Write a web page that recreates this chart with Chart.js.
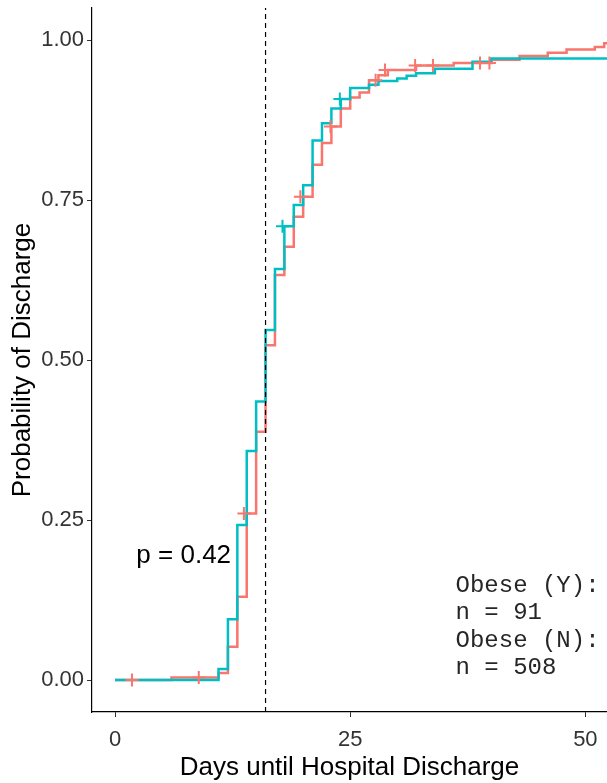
<!DOCTYPE html>
<html lang="en">
<head>
  <meta charset="UTF-8" />
  <title>Days until Hospital Discharge</title>
  <script src="https://cdn.jsdelivr.net/npm/chart.js"></script>
  <style>
    body { margin: 0; background: #fff; }
    #wrap { width: 607px; height: 783px; position: relative; }
  </style>
</head>
<body>
<div id="wrap"><canvas id="kmChart"></canvas></div>

<script>
  // Obese (N) - red curve
  const obeseNDays = [0, 6, 11, 12, 13, 14, 15, 16, 17, 18, 19, 20, 21, 22, 23, 24, 25, 26, 27, 28, 29, 32, 36, 40, 43, 46, 48, 51, 52, 56];
  const obeseNProb = [0, 0.004, 0.011, 0.052, 0.130, 0.260, 0.388, 0.523, 0.633, 0.677, 0.724, 0.755, 0.805, 0.839, 0.865, 0.893, 0.910, 0.918, 0.937, 0.945, 0.953, 0.960, 0.964, 0.969, 0.975, 0.980, 0.985, 0.989, 0.995, 0.995];
  const obeseNCensorDays = [1.8, 8.9, 13.7, 19.7, 22.9, 27.7, 28.7, 31.9, 33.8, 38.8, 39.8];
  const obeseNCensorProb = [0, 0.004, 0.260, 0.755, 0.865, 0.937, 0.953, 0.960, 0.960, 0.964, 0.964];

  // Obese (Y) - teal curve
  const obeseYDays = [0, 11, 12, 13, 14, 15, 16, 17, 18, 19, 20, 21, 22, 23, 24, 25, 27, 28, 30, 31, 32, 34, 38, 40, 56];
  const obeseYProb = [0, 0.017, 0.095, 0.242, 0.358, 0.435, 0.547, 0.642, 0.709, 0.742, 0.773, 0.843, 0.870, 0.893, 0.908, 0.925, 0.930, 0.936, 0.940, 0.944, 0.948, 0.955, 0.966, 0.971, 0.971];
  const obeseYCensorDays = [17.8, 23.9];
  const obeseYCensorProb = [0.709, 0.908];

  const medianDay = 16;
  const xTicks = [0, 25, 50];
  const yTicks = [0, 0.25, 0.5, 0.75, 1];
  const pValueText = 'p = 0.42';
  const countLines = ['Obese (Y):', 'n = 91', 'Obese (N):', 'n = 508'];

  const RED = '#F8766D';
  const TEAL = '#00BFC4';

  function pts(xs, ys) {
    return xs.map((x, i) => ({ x: x, y: ys[i] }));
  }

  function stepLine(days, prob, color) {
    return {
      data: pts(days, prob),
      borderColor: color,
      borderWidth: 2.5,
      pointRadius: 0,
      stepped: 'before',
      fill: false
    };
  }

  function censorMarks(days, prob, color) {
    return {
      data: pts(days, prob),
      showLine: false,
      pointStyle: 'cross',
      pointRadius: 6.5,
      pointBorderWidth: 2,
      pointBorderColor: color,
      borderColor: color,
      backgroundColor: color
    };
  }

  // text drawn in data coordinates
  const notesPlugin = {
    id: 'notes',
    afterDatasetsDraw(chart) {
      const ctx = chart.ctx;
      const xs = chart.scales.x, ys = chart.scales.y;
      ctx.save();
      ctx.fillStyle = '#000';
      ctx.textBaseline = 'middle';

      ctx.font = '26px "Liberation Sans", Arial, sans-serif';
      ctx.textAlign = 'center';
      ctx.fillText(pValueText, xs.getPixelForValue(7.3), ys.getPixelForValue(0.194));

      ctx.font = '24px "Liberation Mono", "Courier New", monospace';
      ctx.fillStyle = '#262626';
      ctx.textAlign = 'left';
      const left = xs.getPixelForValue(36.2);
      const top = ys.getPixelForValue(0.148);
      countLines.forEach((line, i) => {
        ctx.fillText(line, left, top + i * 27.5);
      });
      ctx.restore();
    }
  };

  const tickFont = { family: '"Liberation Sans", Arial, sans-serif', size: 22 };
  const titleFont = { family: '"Liberation Sans", Arial, sans-serif', size: 26, lineHeight: 1.2 };

  new Chart(document.getElementById('kmChart'), {
    type: 'line',
    data: {
      datasets: [
        {
          data: [{ x: medianDay, y: -0.05 }, { x: medianDay, y: 1.05 }],
          borderColor: '#000',
          borderWidth: 1.2,
          borderDash: [5, 4],
          pointRadius: 0
        },
        censorMarks(obeseNCensorDays, obeseNCensorProb, RED),
        censorMarks(obeseYCensorDays, obeseYCensorProb, TEAL),
        stepLine(obeseYDays, obeseYProb, TEAL),
        stepLine(obeseNDays, obeseNProb, RED)
      ]
    },
    options: {
      responsive: true,
      maintainAspectRatio: false,
      animation: false,
      layout: {
        autoPadding: false,
        padding: { top: 8, left: 0, right: 0, bottom: 0 }
      },
      plugins: {
        legend: { display: false },
        tooltip: { enabled: false }
      },
      scales: {
        x: {
          type: 'linear',
          min: -2.45,
          max: 52.3,
          afterBuildTicks: s => { s.ticks = xTicks.map(v => ({ value: v })); },
          afterFit: s => {
            s.height = 71;
            s.paddingLeft = 0;
            s.paddingRight = 0;
          },
          ticks: { font: tickFont, color: '#333', padding: 10, maxRotation: 0 },
          grid: { drawOnChartArea: false, drawTicks: true, tickLength: 5, color: '#333' },
          border: { display: true, color: '#000', width: 1.2 },
          title: {
            display: true,
            text: 'Days until Hospital Discharge',
            font: titleFont,
            color: '#000',
            padding: { top: 0, bottom: 0 }
          }
        },
        y: {
          type: 'linear',
          min: -0.05,
          max: 1.05,
          afterBuildTicks: s => { s.ticks = yTicks.map(v => ({ value: v })); },
          afterFit: s => {
            s.width = 92;
            s.paddingTop = 0;
            s.paddingBottom = 0;
          },
          ticks: {
            font: tickFont,
            color: '#333',
            padding: 3,
            callback: v => v.toFixed(2)
          },
          grid: { drawOnChartArea: false, drawTicks: true, tickLength: 5, color: '#333' },
          border: { display: true, color: '#000', width: 1.2 },
          title: {
            display: true,
            text: 'Probability of Discharge',
            font: titleFont,
            color: '#000',
            padding: { top: 7, bottom: 0 }
          }
        }
      }
    },
    plugins: [notesPlugin]
  });
</script>
</body>
</html>
